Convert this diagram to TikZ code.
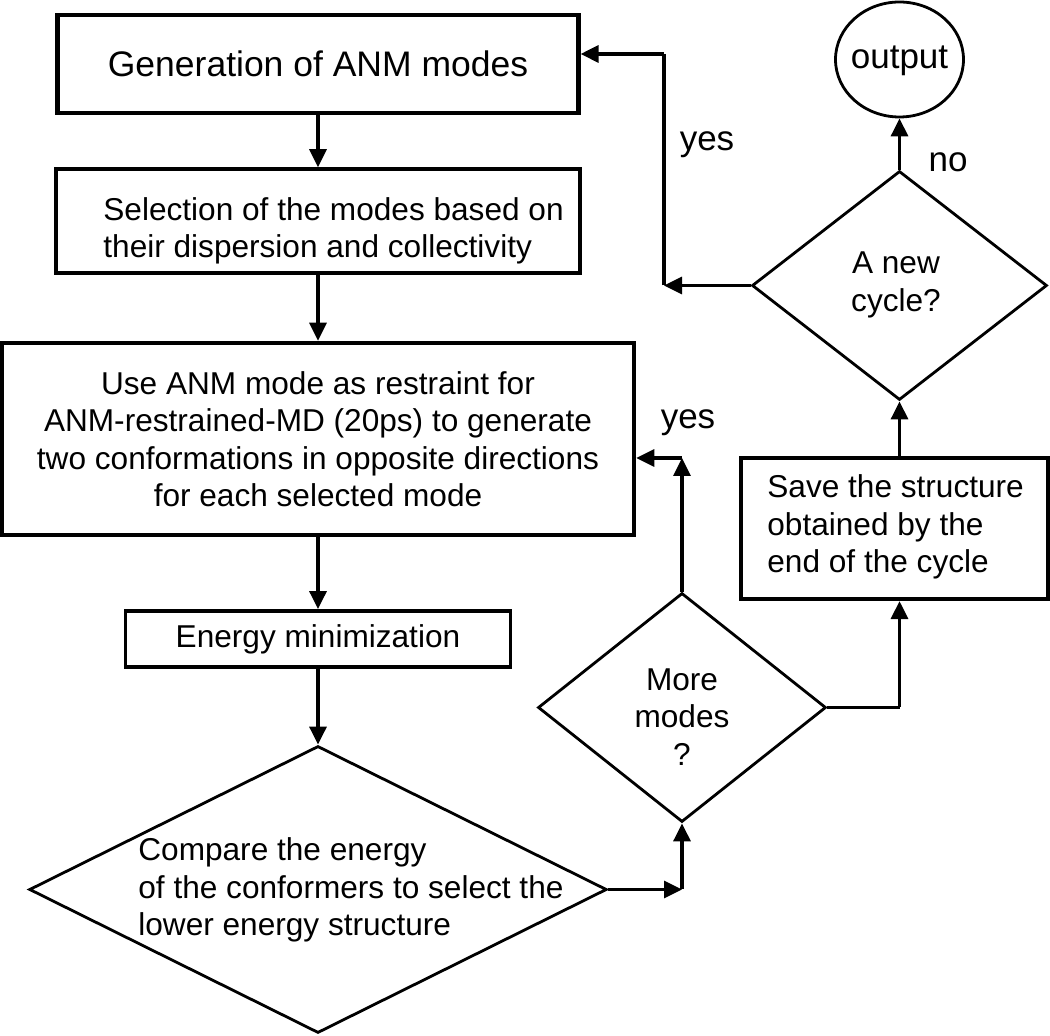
\documentclass[tikz,border=0pt]{standalone}
\usepackage{fontspec}
\setmainfont{Liberation Sans}
\usetikzlibrary{shapes.geometric,arrows.meta}
\begin{document}
\begin{tikzpicture}[x=0.5pt,y=-0.5pt,
  txt/.style={font=\fontsize{15.8}{18.75}\selectfont, inner sep=0pt},
  bigtxt/.style={font=\fontsize{17.5}{21}\selectfont, inner sep=0pt},
  boxn/.style={draw, rectangle, inner sep=0pt, font=\fontsize{15.8}{18.75}\selectfont, align=center},
  dia/.style={draw, diamond, inner sep=0pt, line width=1.4pt},
  arr/.style={line width=1.6pt, -{Triangle[length=9pt,width=8.5pt]}},
  ln/.style={line width=1.6pt}]
\useasboundingbox (0,0) rectangle (1050,1036);

% boxes
\node[boxn, line width=2.1pt, minimum width=260.5pt, minimum height=49pt, font=\fontsize{17.75}{21}\selectfont] (gen) at (318,64) {Generation of ANM modes};
\node[boxn, line width=1.8pt, minimum width=262pt, minimum height=52pt] (sel) at (318,221) {};
\node[txt, align=left, anchor=west] (selt) at (103,231) {Selection of the modes based on\\their dispersion and collectivity};
\node[boxn, line width=2.3pt, minimum width=316pt, minimum height=96pt] (use) at (318,439) {Use ANM mode as restraint for\\ANM-restrained-MD (20ps) to generate\\two conformations in opposite directions\\for each selected mode};
\node[boxn, line width=1.9pt, minimum width=192.5pt, minimum height=28pt] (en) at (318,639) {Energy minimization};
\node[dia, minimum width=288.75pt, minimum height=143.5pt] (cmp) at (318,889.5) {};
\node[txt, align=left, anchor=west] (cmpt) at (138,890) {Compare the energy\\of the conformers to select the\\lower energy structure};
\node[dia, minimum width=144pt, minimum height=114.5pt] (more) at (682,707.5) {};
\node[txt, align=center] (moret) at (682,717) {More\\modes\\?};
\node[boxn, line width=2.1pt, minimum width=153.5pt, minimum height=70.5pt] (save) at (894.5,528.5) {};
\node[txt, align=left, anchor=west] (savet) at (767,527) {Save the structure\\obtained by the\\end of the cycle};
\node[dia, minimum width=147.5pt, minimum height=114.5pt] (ncy) at (899.5,285.5) {};
\node[txt, align=center] (ncyt) at (896,285) {A new\\cycle?};
\node[draw, ellipse, line width=1.4pt, minimum width=64pt, minimum height=57.5pt, inner sep=0pt] (out) at (899.5,59.5) {};
\node[bigtxt] (outt) at (899.5,61) {output};

% connectors
\draw[arr] (gen.south) -- (sel.north);
\draw[arr] (sel.south) -- (use.north);
\draw[arr] (use.south) -- (en.north);
\draw[arr] (en.south) -- (cmp.north);

\coordinate (c1) at (682,889.5);
\draw[arr] (cmp.east) -- (c1);
\draw[arr] (c1) -- (more.south);
\coordinate (c2) at (682,458);
\draw[arr] (more.north) -- (c2);
\draw[arr] (c2) -- (c2 -| use.east);
\node[bigtxt] (yes1) at (688,423) {yes};

\coordinate (c3) at (899.5,707.5);
\draw[ln] (more.east) -- (c3);
\draw[arr] (c3) -- (c3 |- save.south);
\draw[arr] (c3 |- save.north) -- (ncy.south);

\coordinate (c4) at (664,285.5);
\draw[arr] (ncy.west) -- (c4);
\coordinate (c5) at (664,54);
\draw[ln] (c4) -- (c5);
\draw[arr] (c5) -- (c5 -| gen.east);
\node[bigtxt] (yes2) at (707,145) {yes};

\draw[arr] (ncy.north) -- (out.south);
\node[bigtxt] (no) at (948,162) {no};
\end{tikzpicture}
\end{document}
